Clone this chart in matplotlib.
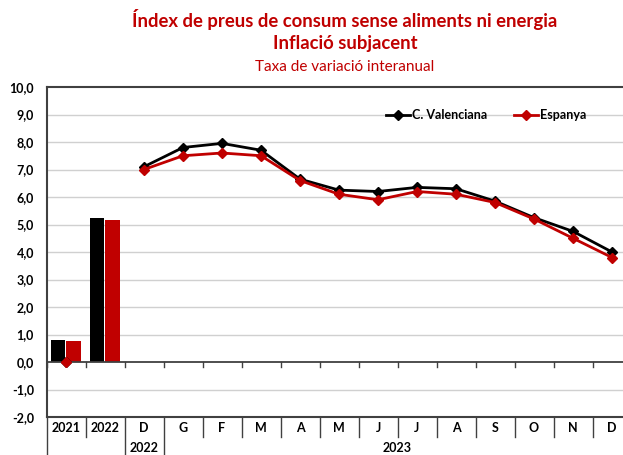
import matplotlib
matplotlib.use("Agg")
import matplotlib.pyplot as plt
import numpy as np
from matplotlib.transforms import blended_transform_factory

plt.rcParams['font.family'] = ['Lato', 'DejaVu Sans']

# ---- data ----
categories = ["2021", "2022", "D", "G", "F", "M", "A", "M", "J", "J", "A", "S", "O", "N", "D"]
year_groups = [("", 0, 1), ("2022", 2, 2), ("2023", 3, 14)]
bar_cv = [0.8, 5.25]
bar_es = [0.75, 5.15]
line_cv = [0.0, None, 7.1, 7.8, 7.95, 7.7, 6.65, 6.25, 6.2, 6.35, 6.3, 5.85, 5.25, 4.75, 4.0]
line_es = [0.0, None, 7.0, 7.5, 7.6, 7.5, 6.6, 6.1, 5.9, 6.2, 6.1, 5.8, 5.2, 4.5, 3.8]
series_names = ["C. Valenciana", "Espanya"]
yticks = np.arange(-2, 11, 1)

W, H = 623, 455
fig = plt.figure(figsize=(W / 100, H / 100), dpi=100)

def fx(x): return x / W
def fy(y): return 1 - y / H

left_px, right_px, top_px, bot_px = 46.5, 631.5, 87, 417
ax = fig.add_axes([fx(left_px), fy(bot_px), (right_px - left_px) / W, (bot_px - top_px) / H])

RED = "#C00000"
BLACK = "#000000"
AXC = "#404040"

n = len(categories)
x = np.arange(n)
ax.set_xlim(-0.5, n - 0.5)
ax.set_ylim(-2, 10)

# gridlines
for v in yticks:
    if v in (-2, 0, 10):
        continue
    ax.axhline(v, color="#D0D0D0", lw=1.0, zorder=0)

# bars
bw = 0.37
ax.bar(x[:2] - 0.205, bar_cv, width=bw, color=BLACK, zorder=2)
ax.bar(x[:2] + 0.195, bar_es, width=bw, color=RED, zorder=2)

# lines
def arr(v):
    return np.array([np.nan if a is None else a for a in v], dtype=float)
ax.plot(x, arr(line_cv), color=BLACK, lw=2.0, marker="D", ms=4.8, zorder=4, label=series_names[0])
ax.plot(x, arr(line_es), color=RED, lw=2.0, marker="D", ms=4.8, zorder=5, label=series_names[1])

# axes lines
for s in ["right", "bottom"]:
    ax.spines[s].set_visible(False)
ax.spines["left"].set_color(AXC)
ax.spines["left"].set_linewidth(1.5)
ax.spines["top"].set_color(AXC)
ax.spines["top"].set_linewidth(1.5)
ax.axhline(0, color=AXC, lw=1.3, zorder=3)
ax.axhline(-2, color=AXC, lw=1.5, zorder=3, clip_on=False)

ax.set_yticks(yticks)
ax.set_yticklabels([f"{v:.1f}".replace(".", ",") for v in yticks], fontsize=9, fontweight="bold")
ax.tick_params(axis="y", length=0, pad=9)
ax.set_xticks([])

trans = blended_transform_factory(ax.transData, ax.transAxes)
hpx = bot_px - top_px
row1 = -20 / hpx
row2 = -(H - bot_px + 2) / hpx
zero_frac = 2 / 12.0
tick_len = 5 / hpx

# small ticks at y=0 axis and category separators
for b in np.arange(n + 1) - 0.5:
    ax.plot([b, b], [zero_frac, zero_frac - tick_len], transform=trans, color=AXC, lw=1.0, clip_on=False, zorder=3)
group_edges = {-0.5, 1.5, 2.5}
for b in np.arange(n + 1) - 0.5:
    low = row2 if b in group_edges else row1
    ax.plot([b, b], [0, low], transform=trans, color=AXC, lw=1.0, clip_on=False, zorder=3)

for i, c in enumerate(categories):
    ax.text(i, -10.5 / hpx, c, transform=trans, ha="center", va="center",
            fontsize=9, fontweight="bold", clip_on=False)
for name, a, b in year_groups:
    if name:
        ax.text((a + b) / 2, -31 / hpx, name, transform=trans, ha="center", va="center",
                fontsize=9, fontweight="bold", clip_on=False)

# legend
leg = ax.legend(loc="center left", bbox_to_anchor=(fx(375), fy(115)), bbox_transform=fig.transFigure,
                ncol=2, frameon=False, handlelength=1.9, handletextpad=0.2, columnspacing=2.1,
                prop={"weight": "bold", "size": 9})

# titles
fig.text(fx(345), fy(20), "Índex de preus de consum sense aliments ni energia", color=RED,
         fontsize=13.3, fontweight="bold", ha="center", va="center")
fig.text(fx(345), fy(44), "Inflació subjacent", color=RED,
         fontsize=13.3, fontweight="bold", ha="center", va="center")
fig.text(fx(345), fy(67), "Taxa de variació interanual", color=RED,
         fontsize=11, ha="center", va="center")

fig.savefig("out.png", dpi=100)
